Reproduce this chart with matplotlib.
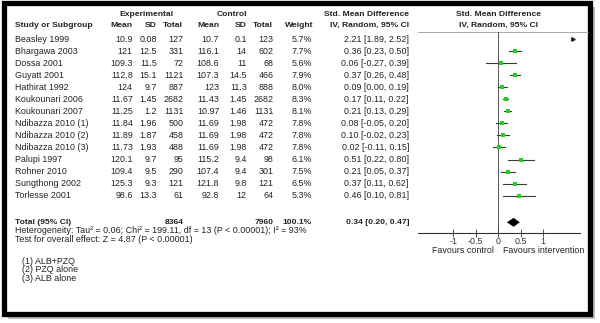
import matplotlib.pyplot as plt
from matplotlib.patches import Rectangle, Polygon

plt.rcParams['font.family'] = ['Liberation Sans', 'DejaVu Sans']

# data
studies = ['Beasley 1999', 'Bhargawa 2003', 'Dossa 2001', 'Guyatt 2001', 'Hathirat 1992',
           'Koukounari 2006', 'Koukounari 2007', 'Ndibazza 2010 (1)', 'Ndibazza 2010 (2)',
           'Ndibazza 2010 (3)', 'Palupi 1997', 'Rohner 2010', 'Sungthong 2002', 'Torlesse 2001']
exp_mean = [10.9, 121, 109.3, 112.8, 124, 11.67, 11.25, 11.84, 11.89, 11.73, 120.1, 109.4, 125.3, 98.6]
exp_sd = [0.08, 12.5, 11.5, 15.1, 9.7, 1.45, 1.2, 1.96, 1.87, 1.93, 9.7, 9.5, 9.3, 13.3]
exp_n = [127, 331, 72, 1121, 887, 2682, 1131, 500, 458, 488, 95, 290, 121, 61]
ctl_mean = [10.7, 116.1, 108.6, 107.3, 123, 11.43, 10.97, 11.69, 11.69, 11.69, 115.2, 107.4, 121.8, 92.8]
ctl_sd = [0.1, 14, 11, 14.5, 11.3, 1.45, 1.46, 1.98, 1.98, 1.98, 9.4, 9.4, 9.8, 12]
ctl_n = [123, 602, 68, 466, 888, 2682, 1131, 472, 472, 472, 98, 301, 121, 64]
weight = [5.7, 7.7, 5.6, 7.9, 8.0, 8.3, 8.1, 7.8, 7.8, 7.8, 6.1, 7.5, 6.5, 5.3]
smd = [2.21, 0.36, 0.06, 0.37, 0.09, 0.17, 0.21, 0.08, 0.10, 0.02, 0.51, 0.21, 0.37, 0.46]
ci_lo = [1.89, 0.23, -0.27, 0.26, 0.00, 0.11, 0.13, -0.05, -0.02, -0.11, 0.22, 0.05, 0.11, 0.10]
ci_hi = [2.52, 0.50, 0.39, 0.48, 0.19, 0.22, 0.29, 0.20, 0.23, 0.15, 0.80, 0.37, 0.62, 0.81]
total_exp = 8364
total_ctl = 7960
pooled = (0.34, 0.20, 0.47)
ticks = [-1, -0.5, 0, 0.5, 1]
tick_labels = ['-1', '-0.5', '0', '0.5', '1']
footnotes = ['(1) ALB+PZQ', '(2) PZQ alone', '(3) ALB alone']

W, H = 600, 323
fig = plt.figure(figsize=(6, 3.23), dpi=100)

# base axes in pixel units for the table text and the frame
ax = fig.add_axes([0, 0, 1, 1])
ax.set_xlim(0, W)
ax.set_ylim(H, 0)
ax.axis('off')

ax.add_patch(Rectangle((8, 7), 587, 312, facecolor='#bdbdbd', edgecolor='none', zorder=0))
ax.add_patch(Rectangle((4, 3), 585.5, 310.5, facecolor='white', edgecolor='black', lw=3.8, zorder=1))

fs = 6.4
fs_b = 6.1
tc = '#222222'
row0, dy = 39, 12.05

def txt(x, y, s, ha='left', bold=False):
    ax.text(x, y, s, ha=ha, va='center', fontsize=fs_b if bold else fs, color=tc,
            fontweight='bold' if bold else 'normal', zorder=3)

# headers
txt(146, 14, 'Experimental', 'center', True)
txt(232, 14, 'Control', 'center', True)
txt(409, 14, 'Std. Mean Difference', 'right', True)
txt(498.3, 14, 'Std. Mean Difference', 'center', True)
txt(15, 25.7, 'Study or Subgroup', 'left', True)
for x, s in [(132.7, 'Mean'), (156.7, 'SD'), (183.3, 'Total'), (219.3, 'Mean'),
             (246.7, 'SD'), (273.3, 'Total'), (313, 'Weight'), (409, 'IV, Random, 95% CI')]:
    txt(x, 25.7, s, 'right', True)
txt(498.3, 25.7, 'IV, Random, 95% CI', 'center', True)
ax.plot([418, 588], [31.5, 31.5], color='#9a9a9a', lw=0.6, zorder=2)

# study rows
for i, name in enumerate(studies):
    y = row0 + dy * i
    txt(15, y, name)
    txt(132.7, y, f'{exp_mean[i]:g}', 'right')
    txt(156.7, y, f'{exp_sd[i]:g}', 'right')
    txt(183.3, y, f'{exp_n[i]}', 'right')
    txt(219.3, y, f'{ctl_mean[i]:g}', 'right')
    txt(246.7, y, f'{ctl_sd[i]:g}', 'right')
    txt(273.3, y, f'{ctl_n[i]}', 'right')
    txt(312, y, f'{weight[i]:.1f}%', 'right')
    txt(409, y, f'{smd[i]:.2f} [{ci_lo[i]:.2f}, {ci_hi[i]:.2f}]', 'right')

# total row
yt = 222.3
txt(15, yt, 'Total (95% CI)', 'left', True)
txt(183.3, yt, f'{total_exp}', 'right', True)
txt(273.3, yt, f'{total_ctl}', 'right', True)
txt(312, yt, f'{sum(weight):.1f}%', 'right', True)
txt(409, yt, f'{pooled[0]:.2f} [{pooled[1]:.2f}, {pooled[2]:.2f}]', 'right', True)
txt(15, 230.7, 'Heterogeneity: Tau\u00b2 = 0.06; Chi\u00b2 = 199.11, df = 13 (P < 0.00001); I\u00b2 = 93%')
txt(15, 239, 'Test for overall effect: Z = 4.87 (P < 0.00001)')
for k, s in enumerate(footnotes):
    txt(21.5, 261.7 + 8.3 * k, s)

txt(494, 250.7, 'Favours control', 'right')
txt(503, 250.7, 'Favours intervention', 'left')

# forest plot axes
px_left, px_right, px_top, px_axis = 418.3, 580, 31.5, 232.7
fa = fig.add_axes([px_left / W, 1 - px_axis / H, (px_right - px_left) / W, (px_axis - px_top) / H])
fa.patch.set_visible(False)
x0 = (px_left - 498.3) / 45
x1 = (px_right - 498.3) / 45
fa.set_xlim(x0, x1)
fa.set_ylim((px_axis - row0) / dy, (px_top - row0) / dy)
for s in ['top', 'left', 'right']:
    fa.spines[s].set_visible(False)
fa.spines['bottom'].set_linewidth(0.8)
fa.spines['bottom'].set_color('#333333')
fa.set_yticks([])
fa.set_xticks(ticks)
fa.set_xticklabels(tick_labels)
fa.tick_params(axis='x', direction='inout', length=6, width=0.6, pad=0.3,
               labelsize=fs, colors='#333333')
fa.axvline(0, color='#555555', lw=0.7, zorder=1)

for i in range(len(studies)):
    if smd[i] > x1:
        fa.plot(x1 - 0.15, i, marker='>', color='#222222', markersize=2.5, clip_on=False)
        continue
    fa.plot([ci_lo[i], ci_hi[i]], [i, i], color='#3a3a3a', lw=0.8, zorder=2)
    fa.plot(smd[i], i, marker='s', color='#1ed21e', markersize=2.9, markeredgewidth=0, zorder=3)

r_tot = (yt - row0) / dy
h = 4.2 / dy
fa.add_patch(Polygon([(pooled[1], r_tot), (pooled[0], r_tot - h), (pooled[2], r_tot),
                      (pooled[0], r_tot + h)], closed=True, facecolor='black', edgecolor='black', lw=0.3))

fig.savefig('out.png', dpi=100)
